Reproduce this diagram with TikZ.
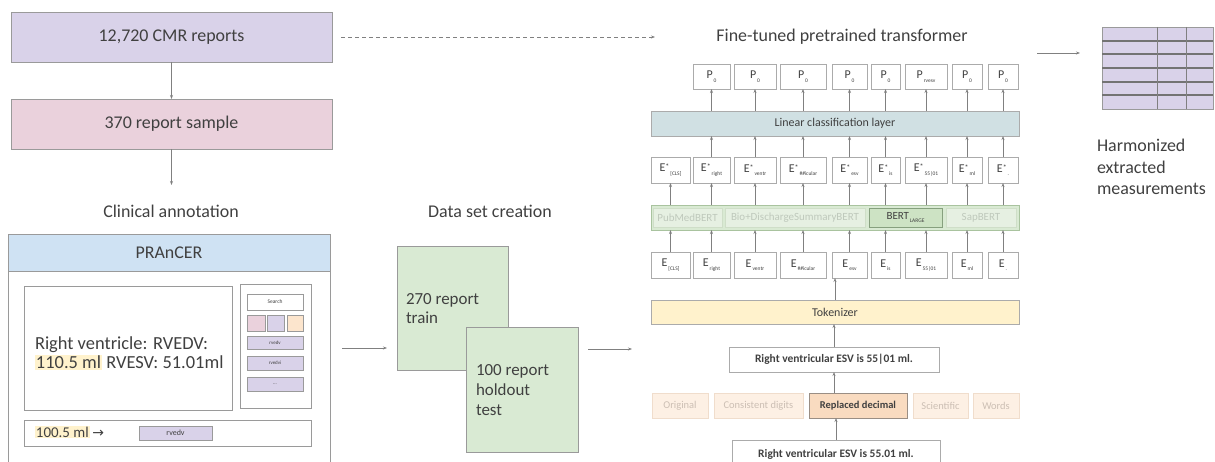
\documentclass[tikz,border=0pt]{standalone}
\usepackage{fontspec}
\setmainfont{Carlito}
\newfontfamily\dejavu{DejaVu Sans}
\usetikzlibrary{arrows.meta,calc}
\definecolor{lav}{HTML}{D9D2E9}
\definecolor{pinkc}{HTML}{EAD1DC}
\definecolor{bluec}{HTML}{CFE2F3}
\definecolor{hlc}{HTML}{FFF2CC}
\definecolor{peach}{HTML}{FCE5CD}
\definecolor{greenc}{HTML}{D9EAD3}
\definecolor{linc}{HTML}{D0E0E3}
\definecolor{bordc}{HTML}{9A9A9A}
\definecolor{txt}{HTML}{404040}
\definecolor{arrc}{HTML}{808080}
\definecolor{tokb}{HTML}{ABABAB}
\definecolor{fgfill}{HTML}{E6F0E2}
\definecolor{fgdraw}{HTML}{CFDEC8}
\definecolor{fgtext}{HTML}{BFC9BC}
\definecolor{bgdraw}{HTML}{A9C39F}
\definecolor{blfill}{HTML}{CDE3C4}
\definecolor{bldraw}{HTML}{86A07E}
\definecolor{fofill}{HTML}{FDF0E4}
\definecolor{fodraw}{HTML}{F0DDCC}
\definecolor{fotext}{HTML}{CCBFB4}
\definecolor{rdfill}{HTML}{F9DBC0}
\definecolor{rddraw}{HTML}{9A8E84}
\newcommand\bx[7][]{\node[#1, minimum width={(#5-#3)*1bp}, minimum height={(#6-#4)*1bp}] (#2) at ({(#3+#5)/2},{(#4+#6)/2}) {#7};}
\newcommand\tk[3]{#1\raisebox{0.15em}{\fontsize{8}{8}\selectfont #2}\hspace{0.08em}\raisebox{-0.3em}{\fontsize{5.5}{6}\selectfont #3}}
\newcommand\hl[1]{{\setlength\fboxsep{1pt}\colorbox{hlc}{#1}}}
\tikzset{
  every node/.style={inner sep=0pt, outer sep=0pt, text=txt},
  bxs/.style={draw=bordc, line width=0.8bp},
  arr/.style={draw=arrc, line width=0.8bp, -{Stealth[length=4bp,width=3bp]}},
  lbl/.style={font=\fontsize{18}{21}\selectfont},
  tbox/.style={draw=tokb, fill=white, line width=0.8bp, font=\fontsize{12}{12}\selectfont},
  small/.style={bxs, fill=lav, font=\fontsize{5}{5}\selectfont},
  fbert/.style={draw=fgdraw, fill=fgfill, line width=0.8bp, text=fgtext, font=\fontsize{11}{11}\selectfont},
  fmeth/.style={draw=fodraw, fill=fofill, line width=0.8bp, text=fotext, font=\fontsize{10.5}{11}\selectfont},
}
\begin{document}
\begin{tikzpicture}[x=1bp,y=-1bp]
\useasboundingbox (0,0) rectangle (1215,462);
\clip (0,0) rectangle (1215,462);
% left column
\bx[bxs, fill=lav, lbl]{b1}{11}{12}{332}{62}{12,720 CMR reports}
\bx[bxs, fill=pinkc, lbl]{b2}{11}{99}{332}{149}{370 report sample}
\draw[arr] (b1.south) -- (b2.north);
\coordinate (cae) at (171.5,185);
\draw[arr] (b2.south) -- (cae);
\node[lbl] (ca) at (171,211) {Clinical annotation};
% PRAnCER
\bx[bxs, fill=white]{pbody}{8}{271}{330}{480}{}
\bx[bxs, fill=bluec, lbl]{phead}{8}{234}{330}{271}{PRAnCER}
\bx[bxs, fill=white]{ptext}{24}{286}{232}{410}{}
\node[anchor=west, align=left, font=\fontsize{18.5}{19.5}\selectfont] (ptx) at (35,353) {Right ventricle: RVEDV:\\\hl{110.5 ml} RVESV: 51.01ml};
\bx[bxs, fill=white]{pside}{240}{284}{311}{408}{}
\bx[bxs, fill=white, font=\fontsize{5.5}{5.5}\selectfont]{psearch}{247}{294}{303}{310}{Search}
\bx[bxs, fill=pinkc]{sq1}{247}{315}{265}{331}{}
\bx[bxs, fill=lav]{sq2}{267}{315}{284}{331}{}
\bx[bxs, fill=peach]{sq3}{287}{315}{303}{331}{}
\bx[small]{t1}{247}{336}{303}{349}{rvedv}
\bx[small]{t2}{247}{356}{303}{370}{rvedvi}
\bx[small]{t3}{247}{377}{303}{391}{...}
\bx[bxs, fill=white]{pbar}{24}{420}{311}{446}{}
\node[anchor=west, font=\fontsize{15}{16}\selectfont] (pbt) at (35,432) {\hl{100.5 ml}\,{\dejavu\fontsize{14}{14}\selectfont →}};
\bx[small, font=\fontsize{8}{8}\selectfont]{pbv}{139}{426}{212}{440}{rvedv}
% data set creation
\coordinate (pa) at (342,348);
\node[lbl] (dsc) at (490,211) {Data set creation};
\bx[bxs, fill=greenc]{train}{397}{246}{508}{370}{}
\bx[bxs, fill=greenc]{test}{466}{327}{578}{452}{}
\node[anchor=west, align=left, font=\fontsize{17}{19}\selectfont] (trt) at (406,309) {270 report\\train};
\node[anchor=west, align=left, font=\fontsize{17}{20}\selectfont] (tet) at (476,390) {100 report\\holdout\\test};
\draw[arr, shorten >=10bp] (pa) -- (pa -| train.west);
\coordinate (ta2) at (632,349);
\draw[arr, shorten <=10bp] (test.east |- ta2) -- (ta2);
% transformer
\node[lbl] (ftt) at (842,37) {Fine-tuned pretrained transformer};
\coordinate (dend) at (655,37);
\draw[arr, dash pattern=on 4bp off 3bp, shorten <=9bp] (b1.east) -- (dend);
\bx[draw=tokb, fill=linc, line width=0.8bp, font=\fontsize{12}{12}\selectfont]{lin}{651}{111}{1019}{136}{Linear classification layer}
\bx[draw=bgdraw, fill=greenc, line width=0.8bp]{bert}{651}{205}{1019}{230}{}
\bx[fbert]{bb1}{653}{208}{722}{227}{PubMedBERT}
\bx[fbert]{bb2}{725}{208}{865}{227}{Bio+DischargeSummaryBERT}
\bx[draw=bldraw, fill=blfill, line width=0.8bp, font=\fontsize{11}{11}\selectfont]{bb3}{869}{208}{942}{227}{\tk{BERT}{}{LARGE}}
\bx[fbert]{bb4}{946}{208}{1016}{227}{SapBERT}
\foreach \i/\a/\b/\s in {1/651/690/{[CLS]},2/693/730/right,3/734/776/ventr,4/780/826/{\#\#icular},5/832/867/esv,6/871/900/is,7/905/947/{55|01},8/952/982/ml,9/988/1018/.}{
  \bx[tbox]{e\i}{\a}{252}{\b}{278}{\tk{E}{}{\s}}
  \bx[tbox]{es\i}{\a}{157}{\b}{183}{\tk{E}{*}{\s}}
  \draw[arr] (e\i.north) -- (e\i.north |- bert.south);
  \draw[arr] (e\i.north |- bert.north) -- (es\i.south);
}
\foreach \i/\a/\b/\s in {2/693/730/0,3/734/776/0,4/780/826/0,5/832/867/0,6/871/900/0,7/905/947/rvesv,8/952/982/0,9/988/1018/0}{
  \bx[tbox]{p\i}{\a}{64}{\b}{89}{\tk{P}{}{\s}}
  \draw[arr] (es\i.north) -- (es\i.north |- lin.south);
  \draw[arr] (es\i.north |- lin.north) -- (p\i.south);
}
\bx[draw=tokb, fill=hlc, line width=0.8bp, font=\fontsize{12}{12}\selectfont]{tok}{651}{300}{1019}{324}{Tokenizer}
\draw[arr] (tok.north) -- (tok.north |- e5.south);
\bx[tbox, font=\bfseries\fontsize{11.5}{12}\selectfont]{s1}{729}{347}{939}{372}{Right ventricular ESV is 55|01 ml.}
\draw[arr] (s1.north) -- (s1.north |- tok.south);
\bx[fmeth]{m1}{652}{393}{708}{418}{Original}
\bx[fmeth]{m2}{714}{393}{803}{418}{Consistent digits}
\bx[draw=rddraw, fill=rdfill, line width=0.8bp, font=\bfseries\fontsize{10.5}{11}\selectfont]{m3}{809}{393}{907}{418}{Replaced decimal}
\bx[fmeth]{m4}{913}{393}{968}{418}{Scientific}
\bx[fmeth]{m5}{973}{393}{1019}{418}{Words}
\draw[arr] (m3.north -| s1.south) -- (s1.south);
\bx[tbox, font=\bfseries\fontsize{11.5}{12}\selectfont]{s2}{732}{440}{940}{468}{Right ventricular ESV is 55.01 ml.}
\draw[arr] (s2.north) -- (s2.north |- m3.south);
% output table
\bx[draw=bordc, fill=lav, line width=0.8bp]{tbl}{1102}{27}{1213}{109}{}
\foreach \yy in {41,54,68,82,95}{
  \draw[draw=black!55, line width=1.5bp] (tbl.west |- 0,\yy) -- (tbl.east |- 0,\yy);
}
\foreach \f in {0.495,0.757}{
  \draw[draw=black!50, line width=0.8bp] ($(tbl.north west)!\f!(tbl.north east)$) -- ($(tbl.south west)!\f!(tbl.south east)$);
}
\coordinate (oa) at (1037,53);
\draw[arr, shorten >=22bp] (oa) -- (oa -| tbl.west);
\node[anchor=west, align=left, font=\fontsize{18}{21.5}\selectfont] (hem) at (1097,167) {Harmonized\\extracted\\measurements};
\end{tikzpicture}
\end{document}
